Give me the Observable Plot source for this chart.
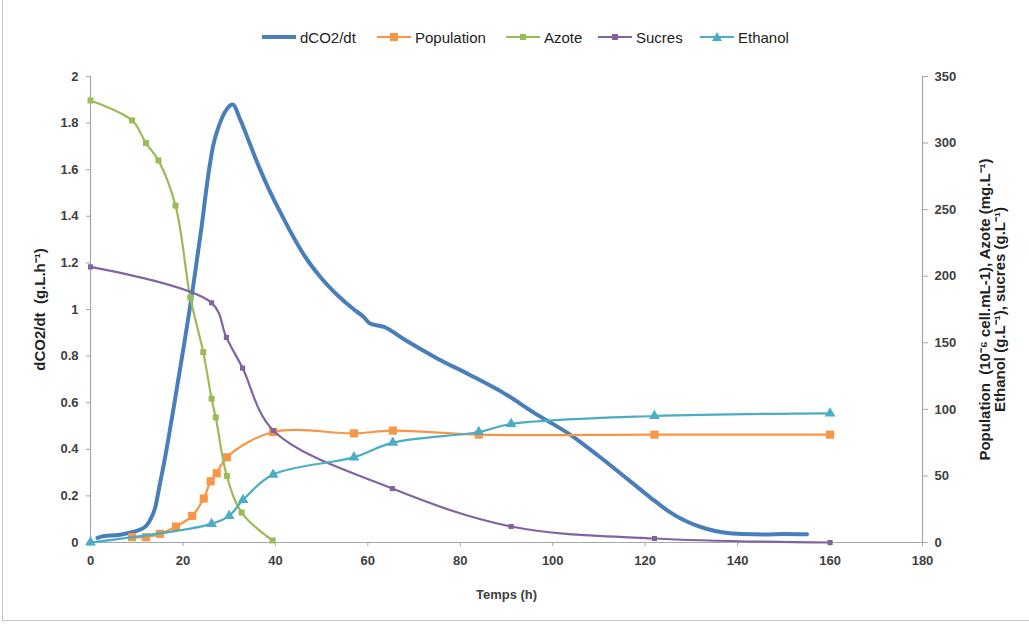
<!DOCTYPE html>
<html>
<head>
<meta charset="utf-8">
<script src="https://cdn.jsdelivr.net/npm/d3@7"></script>
<script src="https://cdn.jsdelivr.net/npm/@observablehq/plot@0.6"></script>
<style>
  body { margin: 0; background: #fff; font-family: "Liberation Sans", Arial, sans-serif; }
  #wrap { position: relative; width: 1029px; height: 631px; overflow: hidden; background: #fff; }
  #frame { position: absolute; left: 2px; top: -2px; width: 1030px; height: 623px; border: 1px solid #c8c8c8; box-sizing: border-box; }
  #legend { position: absolute; left: 0; top: 0; width: 1029px; height: 55px; }
  .item { position: absolute; top: 28px; height: 18px; display: flex; align-items: center; font-size: 15px; color: #222; white-space: nowrap; }
  .item svg { margin-right: 3px; }
  #chart { position: absolute; left: 0; top: 55px; }
</style>
</head>
<body>
<div id="wrap">
  <div id="frame"></div>
  <div id="legend"></div>
  <div id="chart"></div>
</div>
<script>
// ---- data ----
const seriesNames = ["dCO2/dt", "Population", "Azote", "Sucres", "Ethanol"];
const seriesColors = ["#4a7ebb", "#f79646", "#9bbb59", "#8064a2", "#4bacc6"];

const dco2T = [1.5, 3, 6, 8, 10, 12, 13, 14, 15, 16, 18, 20, 22, 24, 25.5, 26.5, 28, 29.5, 30.7, 32.5, 34.5, 36.5, 38.5, 41, 43, 46, 50, 53.5, 57, 59, 60.5, 63.5, 68, 75, 82, 89.5, 96.5, 104, 110, 116, 121, 125, 129, 133, 137, 141, 146, 150, 155];
const dco2V = [0.02, 0.028, 0.032, 0.04, 0.05, 0.07, 0.1, 0.15, 0.25, 0.35, 0.58, 0.82, 1.07, 1.35, 1.58, 1.7, 1.8, 1.86, 1.88, 1.81, 1.71, 1.61, 1.52, 1.42, 1.344, 1.24, 1.133, 1.06, 1.0, 0.97, 0.94, 0.925, 0.87, 0.79, 0.72, 0.64, 0.55, 0.46, 0.37, 0.275, 0.195, 0.135, 0.09, 0.06, 0.043, 0.036, 0.034, 0.036, 0.035];

const popT = [9, 12, 15, 18.5, 22, 24.5, 26, 27.3, 29.5, 39.5, 57, 65.4, 84, 122, 160];
const popV = [4, 4, 6.5, 12, 20, 33, 46, 52, 64, 83, 82, 84, 81, 81, 81];

const azoT = [0, 9, 12, 14.7, 18.4, 21.6, 24.4, 26.2, 27.1, 29.5, 32.7, 39.4];
const azoV = [332, 317, 300, 287, 253, 184, 143, 108, 94, 50, 22.5, 1.5];

const sucT = [0, 26.2, 29.4, 32.9, 39.6, 65.3, 91, 122, 160];
const sucV = [207, 180, 154, 131, 84, 40.5, 12, 3, 0];

const ethT = [0, 26.2, 30, 33, 39.5, 57, 65.4, 84, 91, 122, 160];
const ethV = [0, 14, 20, 32, 51, 64, 75, 83, 89, 95, 97];

const xTicks = [0, 20, 40, 60, 80, 100, 120, 140, 160, 180];
const yLeftTicks = [0, 0.2, 0.4, 0.6, 0.8, 1, 1.2, 1.4, 1.6, 1.8, 2];
const yRightTicks = [0, 50, 100, 150, 200, 250, 300, 350];

const xLabel = "Temps (h)";
const yLeftLabel = "dCO2/dt  (g.L.h\u207B\u00B9)";
const yRightLabel = "Population  (10\u207B\u2076 cell.mL-1), Azote (mg.L\u207B\u00B9)\nEthanol (g.L\u207B\u00B9), sucres (g.L\u207B\u00B9)";

// ---- build ----
const RIGHT_MAX = 350, LEFT_MAX = 2;
const k = LEFT_MAX / RIGHT_MAX;
const mk = (T, V, f = 1) => T.map((t, i) => ({t, v: V[i] * f}));
const dco2 = mk(dco2T, dco2V);
const pop = mk(popT, popV, k);
const azo = mk(azoT, azoV, k);
const suc = mk(sucT, sucV, k);
const eth = mk(ethT, ethV, k);

const axisCol = "#a6a6a6";
const txtCol = "#404040";

const chart = Plot.plot({
  width: 1029,
  height: 576,
  marginTop: 21,
  marginBottom: 89,
  marginLeft: 90,
  marginRight: 107,
  style: {fontFamily: "'Liberation Sans', Arial, sans-serif", fontSize: "13px", fontWeight: "bold", color: txtCol, background: "transparent", overflow: "visible"},
  x: {domain: [0, 180]},
  y: {domain: [0, LEFT_MAX]},
  marks: [
    Plot.axisX({ticks: xTicks, tickSize: 4, tickPadding: 9, label: null, stroke: axisCol, fill: txtCol}),
    Plot.axisY({ticks: yLeftTicks, anchor: "left", tickSize: 4, tickPadding: 8, label: null, stroke: axisCol, fill: txtCol, tickFormat: d => d3.format("~g")(d)}),
    Plot.axisY({ticks: yRightTicks.map(v => v * k), anchor: "right", tickSize: 5, tickPadding: 7, label: null, stroke: axisCol, fill: txtCol, tickFormat: d => String(Math.round(d / k))}),
    Plot.ruleX([0, 180], {stroke: axisCol, strokeWidth: 1.2}),
    Plot.ruleY([0], {stroke: axisCol, strokeWidth: 1.2}),
    Plot.text([xLabel], {frameAnchor: "bottom", dy: 56, fontWeight: "bold", fontSize: 13, fill: txtCol}),
    Plot.text([yLeftLabel], {frameAnchor: "left", dx: -50, rotate: -90, textAnchor: "middle", fontWeight: "bold", fontSize: 15, fill: "#222"}),
    Plot.text([yRightLabel], {frameAnchor: "right", dx: 70, rotate: -90, textAnchor: "middle", lineAnchor: "middle", fontWeight: "bold", fontSize: 15, lineHeight: 1.02, fill: "#222"}),

    Plot.line(dco2, {x: "t", y: "v", stroke: seriesColors[0], strokeWidth: 4, curve: "monotone-x"}),

    Plot.line(pop, {x: "t", y: "v", stroke: seriesColors[1], strokeWidth: 2.2, curve: "catmull-rom"}),
    Plot.dot(pop, {x: "t", y: "v", symbol: "square", r: 4.6, fill: seriesColors[1], stroke: "none"}),

    Plot.line(azo, {x: "t", y: "v", stroke: seriesColors[2], strokeWidth: 2.2, curve: "catmull-rom"}),
    Plot.dot(azo, {x: "t", y: "v", symbol: "square", r: 3.4, fill: seriesColors[2], stroke: "none"}),

    Plot.line(suc, {x: "t", y: "v", stroke: seriesColors[3], strokeWidth: 2.2, curve: "catmull-rom"}),
    Plot.dot(suc, {x: "t", y: "v", symbol: "square", r: 2.9, fill: seriesColors[3], stroke: "none"}),

    Plot.line(eth, {x: "t", y: "v", stroke: seriesColors[4], strokeWidth: 2.2, curve: "catmull-rom"}),
    Plot.dot(eth, {x: "t", y: "v", symbol: "triangle", r: 4, fill: seriesColors[4], stroke: "none"})
  ]
});
document.getElementById("chart").appendChild(chart);

// ---- legend ----
const legendLeft = [262, 377, 506, 598, 700];
const markers = [null, "square", "square", "square", "triangle"];
const legend = document.getElementById("legend");
seriesNames.forEach((name, i) => {
  const div = document.createElement("div");
  div.className = "item";
  div.style.left = legendLeft[i] + "px";
  const c = seriesColors[i];
  let sym = "";
  if (markers[i] === "square") {
    const s = i === 1 ? 8 : 6;
    sym = `<rect x="${17 - s / 2}" y="${9 - s / 2}" width="${s}" height="${s}" fill="${c}"/>`;
  } else if (markers[i] === "triangle") {
    sym = `<path d="M17,4 L22,13 L12,13 Z" fill="${c}"/>`;
  }
  const sw = i === 0 ? 4 : 2.2;
  div.innerHTML = `<svg width="35" height="18"><line x1="0" y1="9" x2="34" y2="9" stroke="${c}" stroke-width="${sw}"/>${sym}</svg><span>${name}</span>`;
  legend.appendChild(div);
});
</script>
</body>
</html>
